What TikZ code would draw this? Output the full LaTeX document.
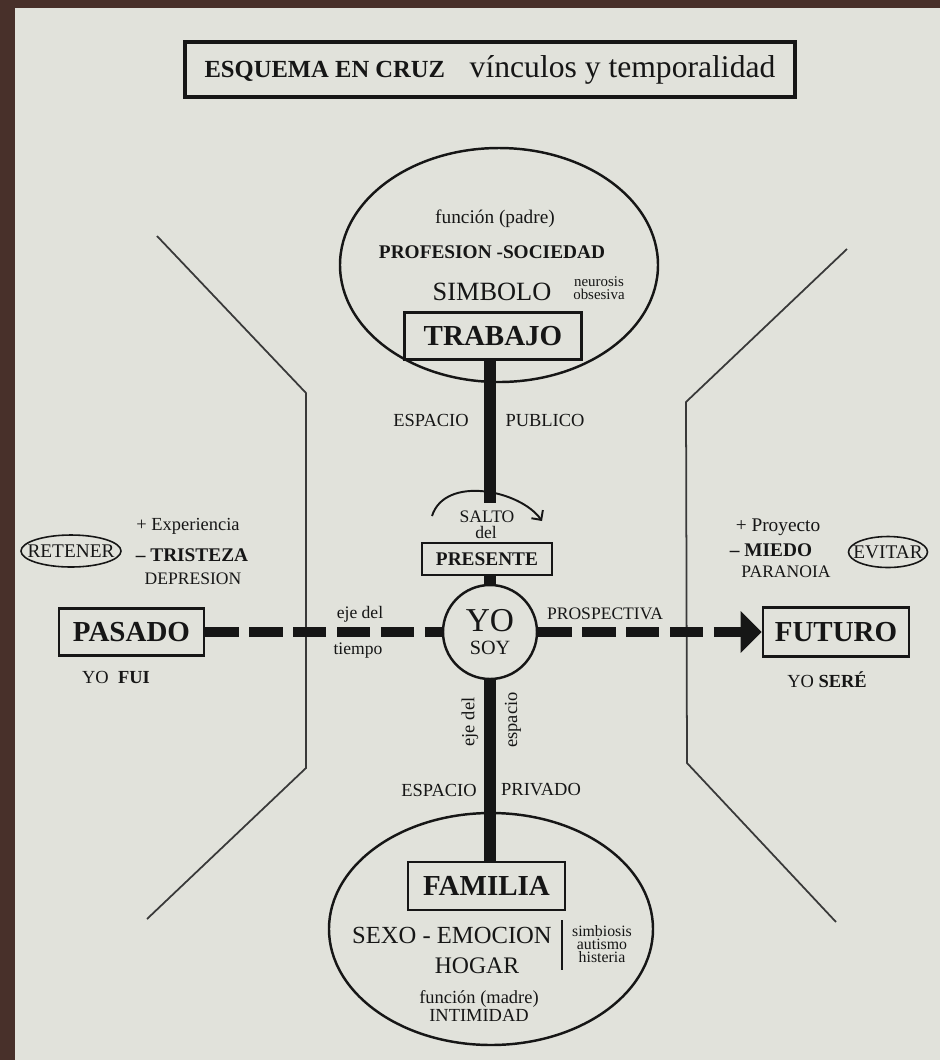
\documentclass[tikz,border=0pt]{standalone}
\usepackage{fontspec}
\setmainfont{Liberation Serif}
\usepackage{xcolor}
\usepackage{tikz}
\usetikzlibrary{positioning,calc,arrows.meta,shapes.geometric}

\definecolor{paper}{RGB}{225,226,219}
\definecolor{wood}{RGB}{72,48,42}
\definecolor{ink}{RGB}{22,22,22}

\tikzset{
    rotulo/.style={inner sep=0pt, text=ink, font=\fontsize{#1}{#1}\selectfont},
    rotulob/.style={inner sep=0pt, text=ink, font=\fontsize{#1}{#1}\selectfont\bfseries},
    casilla/.style={draw=ink, line width=1.4pt, fill=paper, inner sep=0pt, text=ink,
        font=\fontsize{16.5}{18}\selectfont\bfseries},
    globo/.style={draw=ink, line width=1.4pt},
    borde/.style={draw=ink!85, line width=1pt},
    eje/.style={draw=ink, line width=6.5pt},
    ejet/.style={eje, line width=6pt, dash pattern=on 19pt off 6pt},
    etiqueta/.style={ellipse, draw=ink, line width=0.9pt, fill=paper, text=ink,
        inner ysep=0pt, font=\fontsize{11}{11}\selectfont},
}

\begin{document}
\begin{tikzpicture}[x=0.2mm, y=-0.2mm]
    % fondo
    \fill[wood] (0,0) rectangle (940,1060);
    \fill[paper] (15,8) rectangle (940,1060);
    \useasboundingbox (0,0) rectangle (940,1060);

    % titulo
    \node[draw=ink, line width=2pt, fill=paper, minimum width=122mm, minimum height=11mm, text=ink] (titulo) at (490,69.5)
        {{\fontsize{14}{16}\selectfont\bfseries ESQUEMA EN CRUZ}\hspace{14pt}{\fontsize{18}{20}\selectfont vínculos y temporalidad}};

    % lineas laterales
    \draw[borde] (157,236) -- (306,393) -- (306,768) -- (147,919);
    \draw[borde] (847,249) -- (686,402) -- (687,763) -- (836,922);

    % globos
    \draw[globo] (499,265) ellipse [x radius=159, y radius=117];
    \draw[globo] (491,929) ellipse [x radius=162, y radius=116];

    % nodos del eje
    \node[casilla, minimum width=35.4mm, minimum height=9.4mm] (trabajo) at (493,336) {TRABAJO};
    \node[casilla, line width=1pt, font=\fontsize{11}{12}\selectfont\bfseries,
        minimum width=26mm, minimum height=6.4mm] (presente) at (487,559) {PRESENTE};
    \node[circle, draw=ink, line width=1.4pt, fill=paper, minimum size=18.8mm, inner sep=0pt,
        align=center, text=ink] (yo) at (490,632)
        {\fontsize{19}{20}\selectfont YO\\[1.5pt]\fontsize{11.5}{12}\selectfont SOY};
    \node[casilla, minimum width=29mm, minimum height=9.4mm] (pasado) at (131.5,632) {PASADO};
    \node[casilla, minimum width=29.2mm, minimum height=9.8mm] (futuro) at (836,632) {FUTURO};
    \node[casilla, minimum width=31.4mm, minimum height=9.6mm] (familia) at (486.5,886) {FAMILIA};
    \coordinate (salto) at (490,503);

    % ejes
    \draw[eje] (trabajo.south -| salto) -- (salto);
    \draw[eje] (presente.south -| yo.north) -- (yo.north);
    \draw[eje] (yo.south) -- (yo.south |- familia.north);
    \draw[ejet] (pasado.east) -- (yo.west);
    \draw[ejet, -{Triangle[length=12pt, width=23pt]}] (yo.east) -- (futuro.west);
    \draw[ink, line width=1.1pt, -{Straight Barb[length=4pt, width=8pt]}]
        (432,516) .. controls (445,475) and (520,490) .. (542,521);

    % trabajo
    \node[rotulo=11] (funcp) at (495,219) {función (padre)};
    \node[rotulob=11] (profesion) at (492,252) {PROFESION -SOCIEDAD};
    \node[rotulo=15] (simbolo) at (492,292) {SIMBOLO};
    \node[rotulo=8.5, align=center, font=\fontsize{8.5}{7.4}\selectfont] (neurosis) at (599,288) {neurosis\\obsesiva};
    \node[rotulo=10.5] (esppub) at (431,420) {ESPACIO};
    \node[rotulo=10.5] (publico) at (545,420) {PUBLICO};
    \node[rotulo=10] (saltol) at (487,517) {SALTO};
    \node[rotulo=10] (dell) at (486,532) {del};

    % pasado
    \node[etiqueta, inner xsep=-6pt, minimum width=20mm, minimum height=6.4mm] (retener) at (71,551) {RETENER};
    \node[rotulo=10.5] (experiencia) at (188,526) {+ Experiencia};
    \node[rotulob=11] (tristeza) at (192,555) {– TRISTEZA};
    \node[rotulo=10] (depresion) at (193,579) {DEPRESION};
    \node[rotulo=10.5] (yofui) at (116,677) {YO\ \ \textbf{FUI}};
    \node[rotulo=10] (ejedel) at (360,614) {eje del};
    \node[rotulo=10] (tiempo) at (358,651) {tiempo};

    % futuro
    \node[rotulo=10] (prospectiva) at (605,614) {PROSPECTIVA};
    \node[rotulo=11] (proyecto) at (778,527) {+ Proyecto};
    \node[rotulob=11] (miedo) at (771,550) {– MIEDO};
    \node[rotulo=10] (paranoia) at (786,572) {PARANOIA};
    \node[etiqueta, inner xsep=-5pt, minimum width=15.8mm, minimum height=6.2mm] (evitar) at (888,552) {EVITAR};
    \node[rotulo=10.5] (yosere) at (827,680) {YO \textbf{SERÉ}};

    % familia
    \node[rotulo=10.5, rotate=90] (ejeesp) at (470,722) {eje del};
    \node[rotulo=10.5, rotate=90] (espacio) at (513,720) {espacio};
    \node[rotulo=10.5] (espriv) at (439,790) {ESPACIO};
    \node[rotulo=10.5] (privado) at (541,790) {PRIVADO};
    \node[rotulo=14] (sexo) at (452,935) {SEXO - EMOCION};
    \node[rotulo=13.5] (hogar) at (477,966) {HOGAR};
    \draw[ink, line width=0.8pt] (562,920) -- (562,970);
    \node[rotulo=9, align=center, font=\fontsize{9}{7.5}\selectfont] (simbiosis) at (602,944) {simbiosis\\autismo\\histeria};
    \node[rotulo=10.5, align=center, font=\fontsize{10.5}{10}\selectfont] (funcm) at (479,1006) {función (madre)\\INTIMIDAD};
\end{tikzpicture}
\end{document}
